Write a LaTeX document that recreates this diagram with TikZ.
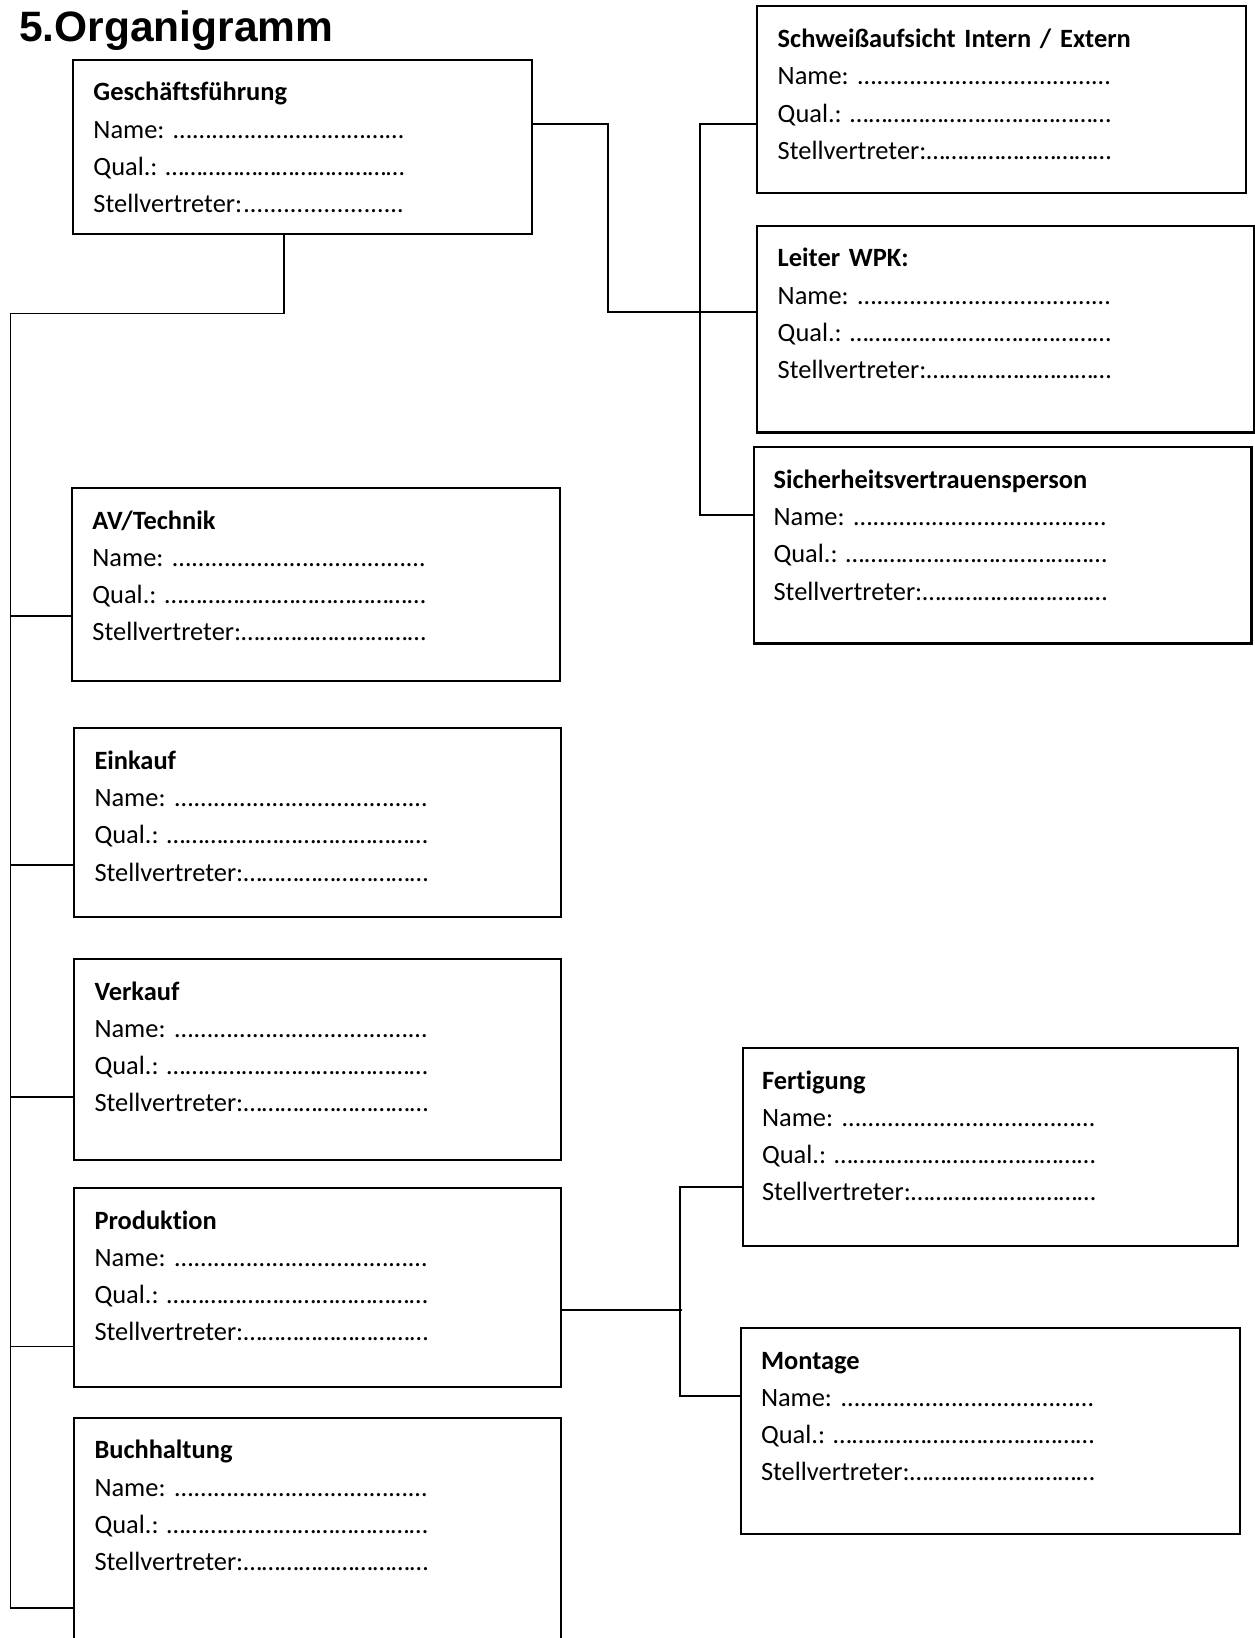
\documentclass[tikz,border=0pt]{standalone}
\usepackage{fontspec}
\setmainfont{Carlito}[Ligatures=NoCommon]
\newfontfamily\titlefont{Liberation Sans}
\usetikzlibrary{fit}

\newcommand\feld[2][139pt]{\makebox[#1][l]{#2\xleaders\hbox{…}\hfill}}
\newcommand\felder[2][139pt]{\textbf{#2}\\ \feld[#1]{Name:\hspace{0.3em}}\\ \feld[#1]{Qual.:\hspace{0.3em}}\\ \feld[#1]{Stellvertreter:}}

\begin{document}
\begin{tikzpicture}[x=0.435pt, y=-0.435pt,
    box/.style={rectangle, draw, line width=0.85pt, inner sep=0pt},
    boxtext/.style={anchor=base west, inner sep=0pt, text width=150pt, align=left, font=\fontsize{11}{15.5}\selectfont},
    conn/.style={line width=0.75pt}
]
\useasboundingbox (0,0) rectangle (1201,1568);

\node[anchor=base west, inner sep=0pt, font=\titlefont\bfseries\fontsize{17.7}{20}\selectfont] (title) at (18,40) {5.Organigramm};

% Kaesten
\node[box, fit={(70,57) (509,224)}] (gf) {};
\node[box, fit={(725,6) (1193,185)}] (schweiss) {};
\node[box, fit={(725,216) (1200,414)}] (wpk) {};
\node[box, fit={(722,428) (1198,616)}] (sicher) {};
\node[box, fit={(69,467) (536,652)}] (av) {};
\node[box, fit={(71,697) (537,878)}] (einkauf) {};
\node[box, fit={(71,918) (537,1110)}] (verkauf) {};
\node[box, fit={(71,1137) (537,1328)}] (prod) {};
\node[box, fit={(71,1357) (537,1590)}] (buch) {};
\node[box, fit={(711,1003) (1185,1193)}] (fert) {};
\node[box, fit={(709,1271) (1187,1468)}] (montage) {};

% Texte
\node[boxtext] (gf-t) at ([shift={(20,40.5)}]gf.north west) {\felder[129.6pt]{Geschäftsführung}};
\node[boxtext] (schweiss-t) at ([shift={(20,40.5)}]schweiss.north west) {\felder{Schweißaufsicht Intern / Extern}};
\node[boxtext] (wpk-t) at ([shift={(20,40.5)}]wpk.north west) {\felder{Leiter WPK:}};
\node[boxtext] (sicher-t) at ([shift={(19,40.5)}]sicher.north west) {\felder{Sicherheitsvertrauensperson}};
\node[boxtext] (av-t) at ([shift={(20,40.5)}]av.north west) {\felder{AV/Technik}};
\node[boxtext] (einkauf-t) at ([shift={(20,40.5)}]einkauf.north west) {\felder{Einkauf}};
\node[boxtext] (verkauf-t) at ([shift={(20,40.5)}]verkauf.north west) {\felder{Verkauf}};
\node[boxtext] (prod-t) at ([shift={(20,40.5)}]prod.north west) {\felder{Produktion}};
\node[boxtext] (buch-t) at ([shift={(20,40.5)}]buch.north west) {\felder{Buchhaltung}};
\node[boxtext] (fert-t) at ([shift={(19,40.5)}]fert.north west) {\felder{Fertigung}};
\node[boxtext] (montage-t) at ([shift={(20,40.5)}]montage.north west) {\felder{Montage}};

% linker Strang
\coordinate (knick) at (272,300);
\coordinate (strang) at (10,300);
\coordinate (buch-in) at ([shift={(0,183)}]buch.north west);
\draw[conn] (gf.south -| knick) -- (knick) -- (strang) |- (buch-in);
\foreach \n/\dy in {av/124, einkauf/132, verkauf/133, prod/153} {
  \coordinate (\n-in) at ([shift={(0,\dy)}]\n.north west);
  \draw[conn] (\n-in) -- (\n-in -| strang);
}

% rechter Strang
\coordinate (gf-out) at ([shift={(0,63)}]gf.north east);
\coordinate (wpk-in) at ([shift={(0,84)}]wpk.north west);
\coordinate (schweiss-in) at ([shift={(0,114)}]schweiss.north west);
\coordinate (sicher-in) at ([shift={(0,66)}]sicher.north west);
\draw[conn] (gf-out) -- ++(72,0) |- (wpk-in);
\draw[conn] (schweiss-in) -- ++(-54,0) |- (sicher-in);

% Produktion
\coordinate (prod-out) at ([shift={(0,118)}]prod.north east);
\coordinate (fert-in) at ([shift={(0,134)}]fert.north west);
\coordinate (montage-in) at ([shift={(0,66)}]montage.north west);
\draw[conn] (prod-out) -- ++(115,0);
\draw[conn] (fert-in) -- ++(-59,0) |- (montage-in);

\end{tikzpicture}
\end{document}
